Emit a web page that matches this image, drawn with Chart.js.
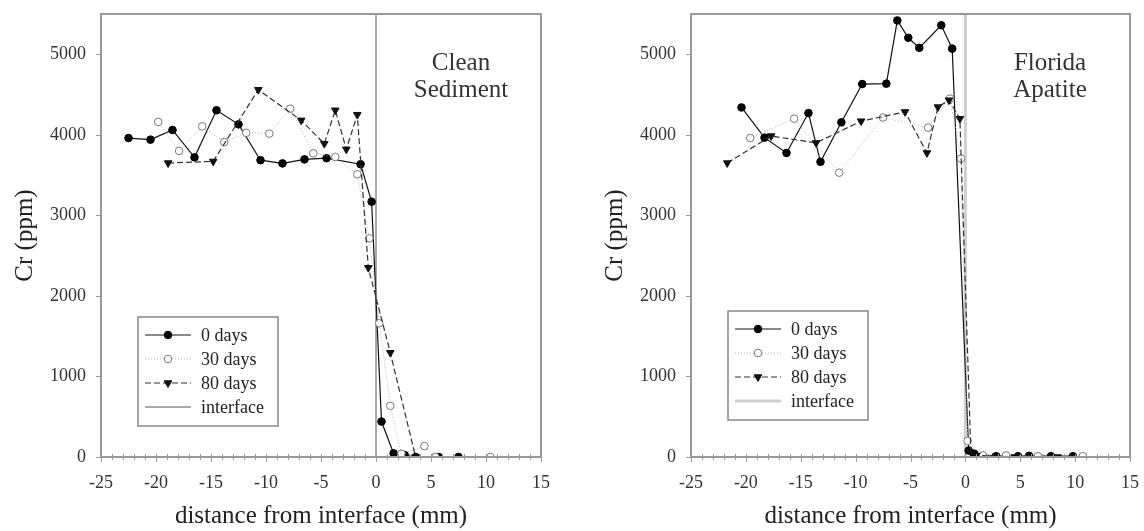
<!DOCTYPE html>
<html>
<head>
<meta charset="utf-8">
<script src="https://cdn.jsdelivr.net/npm/chart.js@4.4.0/dist/chart.umd.min.js"></script>
<style>
  html, body { margin: 0; padding: 0; background: #fff; overflow: hidden; }
  .panel { position: absolute; top: 0; height: 531px; }
  #left { left: 0; width: 560px; }
  #right { left: 590px; width: 554px; }
</style>
</head>
<body>
<div class="panel" id="left"><canvas id="cleanChart"></canvas></div>
<div class="panel" id="right"><canvas id="apatiteChart"></canvas></div>
<script>
const yTicks = [0, 1000, 2000, 3000, 4000, 5000];
const xTicks = [-25, -20, -15, -10, -5, 0, 5, 10, 15];
const seriesLabels = ['0 days', '30 days', '80 days', 'interface'];

// Clean Sediment
const clean0X = [-22.5, -20.5, -18.5, -16.5, -14.5, -12.5, -10.5, -8.5, -6.5, -4.5, -1.4, -0.4, 0.5, 1.6, 2.6, 3.6, 5.7, 7.5];
const clean0Y = [3960, 3940, 4060, 3720, 4305, 4130, 3685, 3645, 3695, 3710, 3635, 3170, 440, 45, 25, 0, 0, 0];
const clean30X = [-19.8, -17.9, -15.8, -13.8, -11.8, -9.7, -7.8, -5.7, -3.7, -1.7, -0.6, 0.3, 1.3, 2.3, 4.4, 5.4, 10.4];
const clean30Y = [4160, 3800, 4105, 3910, 4025, 4015, 4325, 3770, 3725, 3510, 2715, 1660, 635, 40, 135, 0, 0];
const clean80X = [-18.9, -14.8, -10.7, -6.8, -4.7, -3.7, -2.7, -1.7, -0.7, 1.3, 3.6];
const clean80Y = [3650, 3670, 4560, 4180, 3890, 4305, 3820, 4250, 2350, 1295, 0];

// Florida Apatite
const apa0X = [-20.4, -18.3, -16.3, -14.3, -13.2, -11.3, -9.4, -7.2, -6.2, -5.2, -4.2, -2.2, -1.2, 0.3, 0.8, 2.8, 4.8, 5.8, 7.8, 9.8];
const apa0Y = [4340, 3965, 3775, 4270, 3665, 4155, 4630, 4635, 5420, 5205, 5080, 5360, 5070, 80, 40, 10, 10, 15, 10, 10];
const apa30X = [-19.6, -15.6, -11.5, -7.5, -3.4, -1.4, -0.4, 0.2, 1.6, 3.7, 6.6, 10.7];
const apa30Y = [3960, 4200, 3530, 4215, 4090, 4450, 3705, 200, 20, 20, 10, 10];
const apa80X = [-21.7, -17.7, -13.6, -9.5, -5.5, -3.5, -2.5, -1.5, -0.5, 0.5, 1.0, 2.8, 4.5, 8.4];
const apa80Y = [3650, 3985, 3900, 4170, 4285, 3775, 4345, 4430, 4200, 60, 20, 10, 0, 0];

const interfaceX = [0, 0];
const interfaceY = [0, 5500];

const SERIF = '"Liberation Serif", "DejaVu Serif", serif';
const toPoints = (xs, ys) => xs.map((x, i) => ({ x: x, y: ys[i] }));

// frame, ticks, legend box and panel label
const decorPlugin = {
    id: 'decor',
    afterDraw(chart, args, opts) {
        const ctx = chart.ctx;
        const area = chart.chartArea;
        const xs = chart.scales.x, ys = chart.scales.y;
        ctx.save();

        ctx.strokeStyle = '#999';
        ctx.lineWidth = 1;
        for (let v = -25; v <= 15; v++) {
            const px = Math.round(xs.getPixelForValue(v)) + 0.5;
            ctx.beginPath();
            ctx.moveTo(px, area.bottom - 3);
            ctx.lineTo(px, area.bottom + (v % 5 === 0 ? 5 : 3));
            ctx.stroke();
        }
        yTicks.forEach(v => {
            const py = Math.round(ys.getPixelForValue(v)) + 0.5;
            ctx.beginPath();
            ctx.moveTo(area.left - 5, py);
            ctx.lineTo(area.left, py);
            ctx.stroke();
        });

        ctx.lineWidth = 2;
        ctx.strokeRect(area.left, area.top, area.right - area.left, area.bottom - area.top);

        // panel label
        ctx.fillStyle = '#333';
        ctx.font = '25px ' + SERIF;
        ctx.textAlign = 'center';
        ctx.textBaseline = 'middle';
        opts.label.forEach((t, i) => ctx.fillText(t, area.right - 80, 63 + i * 27));

        // legend
        const bx = area.left + 37, by = opts.legendTop, bw = 140, bh = 109;
        ctx.fillStyle = '#fff';
        ctx.fillRect(bx, by, bw, bh);
        ctx.strokeStyle = '#888';
        ctx.lineWidth = 1.5;
        ctx.strokeRect(bx, by, bw, bh);
        chart.data.datasets.forEach((ds, i) => {
            const ry = by + 18 + i * 24;
            ctx.save();
            ctx.strokeStyle = ds.borderColor;
            ctx.lineWidth = ds.borderWidth;
            ctx.setLineDash(ds.borderDash || []);
            ctx.beginPath();
            ctx.moveTo(bx + 7, ry);
            ctx.lineTo(bx + 53, ry);
            ctx.stroke();
            ctx.restore();
            if (ds.pointRadius > 0) {
                ctx.save();
                ctx.fillStyle = ds.pointBackgroundColor;
                ctx.strokeStyle = ds.pointBorderColor;
                ctx.lineWidth = 1;
                Chart.helpers.drawPoint(ctx, {
                    pointStyle: ds.pointStyle, rotation: ds.pointRotation || 0,
                    radius: ds.pointRadius, borderWidth: 1
                }, bx + 30, ry);
                ctx.restore();
            }
            ctx.fillStyle = '#222';
            ctx.font = '18px ' + SERIF;
            ctx.textAlign = 'left';
            ctx.textBaseline = 'middle';
            ctx.fillText(ds.label, bx + 63, ry + 1);
        });
        ctx.restore();
    }
};

function buildChart(canvasId, s0, s30, s80, ifaceStyle, label, legendTop, padRight) {
    const datasets = [
        {
            label: seriesLabels[0], data: s0, showLine: true,
            borderColor: '#111', borderWidth: 1.2,
            pointStyle: 'circle', pointRadius: 3.8,
            pointBackgroundColor: '#000', pointBorderColor: '#000', pointBorderWidth: 1
        },
        {
            label: seriesLabels[1], data: s30, showLine: true,
            borderColor: '#b5b5b5', borderWidth: 1, borderDash: [1, 2],
            pointStyle: 'circle', pointRadius: 3.8,
            pointBackgroundColor: '#fff', pointBorderColor: '#777', pointBorderWidth: 1
        },
        {
            label: seriesLabels[2], data: s80, showLine: true,
            borderColor: '#333', borderWidth: 1.2, borderDash: [6, 3],
            pointStyle: 'triangle', pointRotation: 180, pointRadius: 4.4,
            pointBackgroundColor: '#111', pointBorderColor: '#111', pointBorderWidth: 1
        },
        {
            label: seriesLabels[3], data: toPoints(interfaceX, interfaceY), showLine: true,
            borderColor: ifaceStyle.color, borderWidth: ifaceStyle.width, pointRadius: 0
        }
    ];
    // interface line drawn below the data
    datasets.forEach((ds, i) => { ds.order = i === 3 ? 10 : 3 - i; });

    return new Chart(document.getElementById(canvasId), {
        type: 'scatter',
        data: { datasets: datasets },
        plugins: [decorPlugin],
        options: {
            responsive: true,
            maintainAspectRatio: false,
            animation: false,
            layout: { padding: { left: 10, top: 14, right: padRight, bottom: 0 } },
            plugins: {
                legend: { display: false },
                tooltip: { enabled: false },
                decor: { label: label, legendTop: legendTop }
            },
            scales: {
                x: {
                    type: 'linear', min: -25, max: 15,
                    afterBuildTicks: s => { s.ticks = xTicks.map(v => ({ value: v })); },
                    afterFit: s => { s.height = 74; s.paddingLeft = 0; s.paddingRight = 0; },
                    grid: { display: false, drawTicks: false },
                    border: { display: false },
                    ticks: { padding: 15, color: '#333', font: { family: SERIF, size: 18 }, maxRotation: 0, autoSkip: false,
                             callback: v => String(v) },
                    title: { display: true, text: 'distance from interface (mm)', color: '#222', padding: 0, font: { family: SERIF, size: 25 } }
                },
                y: {
                    type: 'linear', min: 0, max: 5500,
                    afterBuildTicks: s => { s.ticks = yTicks.map(v => ({ value: v })); },
                    afterFit: s => { s.width = 91; s.paddingTop = 0; s.paddingBottom = 0; },
                    grid: { display: false, drawTicks: false },
                    border: { display: false },
                    ticks: { padding: 15, color: '#333', font: { family: SERIF, size: 18 }, callback: v => String(v) },
                    title: { display: true, text: 'Cr (ppm)', color: '#222', padding: 0, font: { family: SERIF, size: 25 } }
                }
            }
        }
    });
}

buildChart('cleanChart',
    toPoints(clean0X, clean0Y), toPoints(clean30X, clean30Y), toPoints(clean80X, clean80Y),
    { color: '#8c8c8c', width: 1.5 }, ['Clean', 'Sediment'], 317, 19);

buildChart('apatiteChart',
    toPoints(apa0X, apa0Y), toPoints(apa30X, apa30Y), toPoints(apa80X, apa80Y),
    { color: '#cfcfcf', width: 3 }, ['Florida', 'Apatite'], 311, 14);
</script>
</body>
</html>
